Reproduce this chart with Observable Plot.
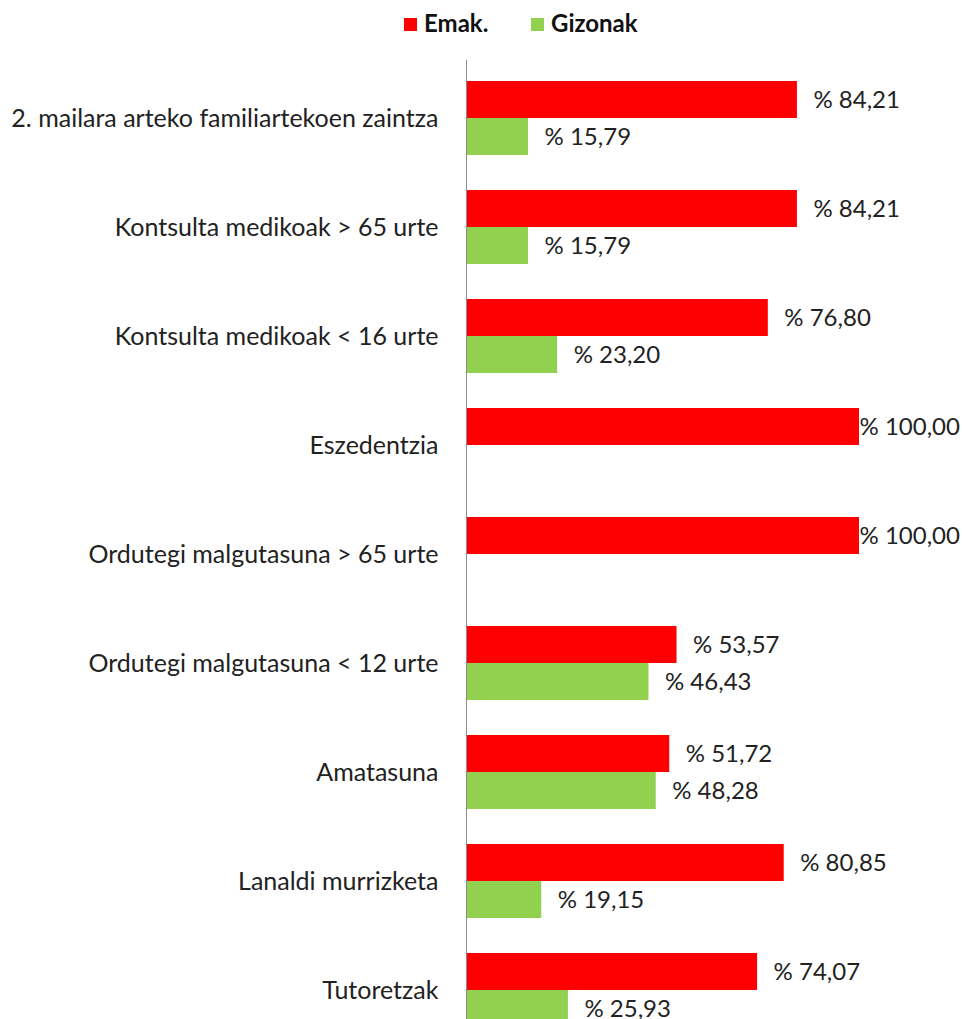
<!DOCTYPE html>
<html><head><meta charset="utf-8">
<script src="https://cdn.jsdelivr.net/npm/d3@7"></script>
<script src="https://cdn.jsdelivr.net/npm/@observablehq/plot@0.6"></script>
<style>
body{margin:0;background:#fff;font-family:Lato, "Open Sans", sans-serif;overflow:hidden}
#legend{height:59px;position:relative;width:962px}
#chart svg{display:block}
.sw{position:absolute;top:18px;width:13px;height:13px}
.lt{position:absolute;top:9px;font-weight:bold;font-size:24px;color:#111;line-height:28px}
</style></head><body>
<div id="legend">
  <div class="sw" style="left:404px;background:#FF0000"></div><div class="lt" style="left:424px">Emak.</div>
  <div class="sw" style="left:531px;background:#92D050"></div><div class="lt" style="left:551px">Gizonak</div>
</div>
<div id="chart"></div>
<script>
const categories = [
  "2. mailara arteko familiartekoen zaintza",
  "Kontsulta medikoak > 65 urte",
  "Kontsulta medikoak < 16 urte",
  "Eszedentzia",
  "Ordutegi malgutasuna > 65 urte",
  "Ordutegi malgutasuna < 12 urte",
  "Amatasuna",
  "Lanaldi murrizketa",
  "Tutoretzak"
];
const emak =    [84.21, 84.21, 76.80, 100.00, 100.00, 53.57, 51.72, 80.85, 74.07];
const gizonak = [15.79, 15.79, 23.20, 0, 0, 46.43, 48.28, 19.15, 25.93];
const series = ["Emak.", "Gizonak"];
const colors = ["#FF0000", "#92D050"];

const data = categories.flatMap((c, i) => [
  {category: c, sex: series[0], value: emak[i]},
  {category: c, sex: series[1], value: gizonak[i]}
]);
const shown = data.filter(d => d.value > 0);
const fmt = v => "% " + v.toFixed(2).replace(".", ",");

const chart = Plot.plot({
  width: 962, height: 986,
  marginLeft: 466, marginRight: 103, marginTop: 5, marginBottom: 0,
  style: {fontFamily: "Lato, 'Open Sans', sans-serif", fontSize: "25px", color: "#222", background: "white"},
  x: {domain: [0, 100], axis: null},
  y: {domain: series, axis: null, padding: 0},
  fy: {domain: categories, paddingInner: 0.32, paddingOuter: 0.16, label: null, axis: "left", tickSize: 0, tickPadding: 28},
  color: {domain: series, range: colors},
  marks: [
    Plot.barX(shown, {x: "value", y: "sex", fy: "category", fill: "sex"}),
    Plot.text(shown.filter(d => d.value < 100), {x: "value", y: "sex", fy: "category", text: d => fmt(d.value), textAnchor: "start", dx: 16, fill: "#222", fontSize: 24}),
    Plot.text(shown.filter(d => d.value >= 100), {x: "value", y: "sex", fy: "category", text: d => fmt(d.value), textAnchor: "start", dx: 0, fill: "#222", fontSize: 24}),
    Plot.ruleX([0], {stroke: "#8c8c8c", insetTop: -21, insetBottom: -18})
  ]
});
document.getElementById("chart").appendChild(chart);
</script>
</body></html>
